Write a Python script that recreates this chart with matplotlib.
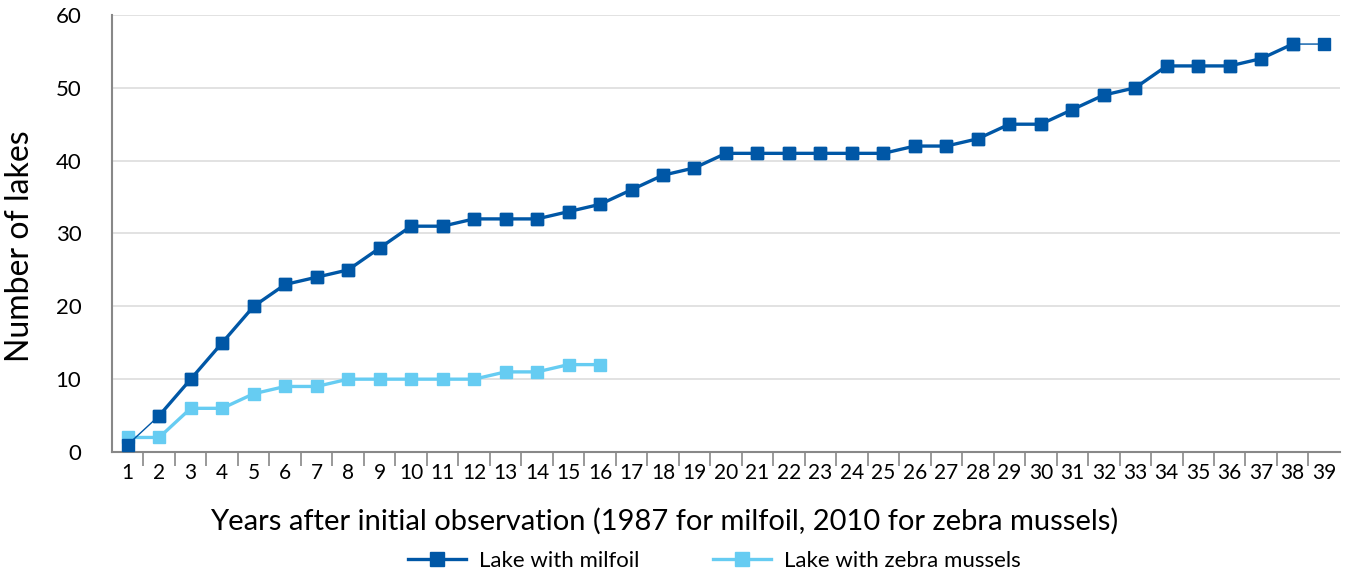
import numpy as np
import matplotlib.pyplot as plt

# Jahre nach der ersten Beobachtung
years = list(range(1, 40))
milfoil = [1, 5, 10, 15, 20, 23, 24, 25, 28, 31, 31, 32, 32, 32, 33, 34, 36, 38, 39,
           41, 41, 41, 41, 41, 41, 42, 42, 43, 45, 45, 47, 49, 50, 53, 53, 53, 54, 56, 56]
zebra = [2, 2, 6, 6, 8, 9, 9, 10, 10, 10, 10, 10, 11, 11, 12, 12]

dark_blue = '#0057A6'
light_blue = '#66CCF2'
axis_gray = '#888888'

plt.rcParams['font.family'] = ['Lato', 'DejaVu Sans']

fig = plt.figure(figsize=(13.46, 5.74), dpi=100)
ax = fig.add_axes([0.0832, 0.2125, 0.9123, 0.7615])

ax.plot(years[:len(zebra)], zebra, color=light_blue, lw=2.4, marker='s', ms=9,
        label='Lake with zebra mussels', zorder=3)
# erstes und letztes Stück der Milfoil-Linie sind im Original dünn
ax.plot(years, milfoil, color=dark_blue, lw=1.0, marker='s', ms=9, zorder=4)
ax.plot(years[1:-1], milfoil[1:-1], color=dark_blue, lw=2.4, marker='s', ms=9,
        label='Lake with milfoil', zorder=4)

ax.set_xlim(0.5, 39.5)
ax.set_ylim(0, 60)
ax.set_yticks(range(0, 61, 10))
ax.set_xticks(years)
ax.set_xticks(np.arange(1.5, 39, 1), minor=True)
ax.tick_params(axis='x', which='major', length=0, pad=8, labelsize=15)
ax.tick_params(axis='x', which='minor', length=10, width=1.2, color=axis_gray, direction='out')
ax.tick_params(axis='y', length=0, pad=22, labelsize=16)

ax.grid(axis='y', color='#dddddd', lw=1.2)
ax.set_axisbelow(True)
for s in ['top', 'right']:
    ax.spines[s].set_visible(False)
for s in ['left', 'bottom']:
    ax.spines[s].set_color(axis_gray)
    ax.spines[s].set_linewidth(1.5)

ax.set_ylabel('Number of lakes', fontsize=23, labelpad=14)
ax.yaxis.set_label_coords(-0.063, 0.47)
ax.set_xlabel('Years after initial observation (1987 for milfoil, 2010 for zebra mussels)',
              fontsize=21, labelpad=18)
ax.xaxis.label.set_x(0.45)

handles, labels = ax.get_legend_handles_labels()
fig.legend(handles[::-1], labels[::-1], loc='lower center', bbox_to_anchor=(0.531, -0.03),
           ncol=2, frameon=False, fontsize=16, handlelength=2.6, handletextpad=0.6,
           columnspacing=3.3, markerscale=1.15)

fig.savefig('out.png', dpi=100)
